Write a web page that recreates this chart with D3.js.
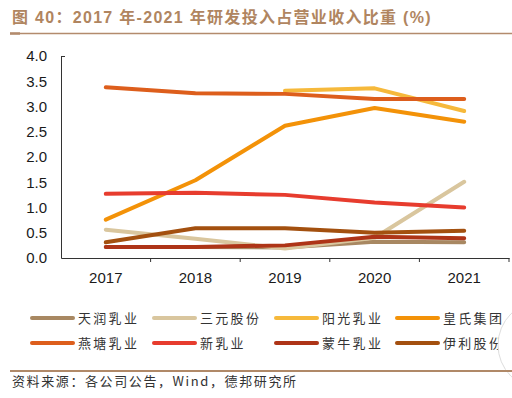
<!DOCTYPE html>
<html><head><meta charset="utf-8">
<script src="https://cdn.jsdelivr.net/npm/d3@7"></script>
<style>body{margin:0;background:#fff}svg{display:block}</style>
</head><body>
<svg id="c" width="512" height="398"></svg>
<script>
const years = ["2017","2018","2019","2020","2021"];
const yTicks = [0,0.5,1,1.5,2,2.5,3,3.5,4];
const seriesNames = ["天润乳业","三元股份","阳光乳业","皇氏集团","燕塘乳业","新乳业","蒙牛乳业","伊利股份"];
const seriesColors = ["#A88862","#D9C69E","#F6B93B","#F39208","#DD5E1C","#E73C2E","#AE3417","#A3500F"];
const tianrun = [0.22,0.22,0.21,0.32,0.31];
const sanyuan = [0.56,0.38,0.19,0.40,1.51];
const yangguang = [null,null,3.31,3.36,2.91];
const huangshi = [0.76,1.54,2.62,2.97,2.70];
const yantang = [3.38,3.26,3.25,3.15,3.15];
const xinru = [1.27,1.29,1.25,1.10,1.00];
const mengniu = [0.22,0.22,0.25,0.42,0.39];
const yili = [0.31,0.59,0.59,0.50,0.54];
const seriesValues = [tianrun,sanyuan,yangguang,huangshi,yantang,xinru,mengniu,yili];

const svg = d3.select("#c");
const x = d3.scaleBand().domain(years).range([61,509]);
const y = d3.scaleLinear().domain([0,4]).range([258,56]);

// title
svg.append("text").attr("x",12).attr("y",23)
  .attr("font-family","Liberation Sans, Arial, 'Noto Sans CJK SC', sans-serif")
  .attr("font-weight","bold").attr("font-size",16).attr("fill","#B08560")
  .attr("letter-spacing","1.3px")
  .text("图 40：2017 年-2021 年研发投入占营业收入比重 (%)");
svg.append("line").attr("x1",10).attr("x2",512).attr("y1",33.5).attr("y2",33.5)
  .attr("stroke","#B38B6D").attr("stroke-width",1.5);
svg.append("line").attr("x1",10).attr("x2",20).attr("y1",33.5).attr("y2",33.5)
  .attr("stroke","#B38B6D").attr("stroke-width",2.5);

// axes
const yAxis = d3.axisLeft(y).tickValues(yTicks).tickFormat(d3.format(".1f")).tickSize(0).tickPadding(14);
const gy = svg.append("g").attr("transform","translate(61,0)").call(yAxis);
gy.select(".domain").attr("stroke","#333");
gy.selectAll("text").attr("font-family","Liberation Sans, Arial, sans-serif").attr("font-size",15).attr("fill","#1a1a1a");
svg.append("line").attr("x1",61).attr("x2",65).attr("y1",56.5).attr("y2",56.5).attr("stroke","#333");

const xAxis = d3.axisBottom(x).tickSize(0).tickPadding(14);
const gx = svg.append("g").attr("transform","translate(0,258)").call(xAxis);
gx.select(".domain").attr("stroke","#333");
gx.selectAll("text").attr("font-family","Liberation Sans, Arial, sans-serif").attr("font-size",15).attr("fill","#1a1a1a");
// band boundary ticks
const bounds = years.map(d => x(d) + x.bandwidth());
svg.append("g").selectAll("line").data(bounds).join("line")
  .attr("x1",d=>d).attr("x2",d=>d).attr("y1",258).attr("y2",262).attr("stroke","#333");

// lines
const line = d3.line().defined(d=>d!=null)
  .x((d,i)=>x(years[i])+x.bandwidth()/2).y(d=>y(d));
svg.append("g").selectAll("path").data(seriesValues).join("path")
  .attr("d",d=>line(d)).attr("fill","none")
  .attr("stroke",(d,i)=>seriesColors[i]).attr("stroke-width",4)
  .attr("stroke-linecap","round").attr("stroke-linejoin","round");

// legend
const colX = [32,154,276,397];
const rowY = [318,343];
const lg = svg.append("g").selectAll("g").data(seriesNames).join("g")
  .attr("transform",(d,i)=>`translate(${colX[i%4]},${rowY[Math.floor(i/4)]})`);
lg.append("line").attr("x1",0).attr("x2",41).attr("y1",0).attr("y2",0)
  .attr("stroke",(d,i)=>seriesColors[i]).attr("stroke-width",4).attr("stroke-linecap","round");
lg.append("text").attr("x",46).attr("y",5).attr("font-size",13)
  .attr("font-family","'Noto Sans CJK SC', sans-serif").attr("letter-spacing","2.3px")
  .attr("fill","#333").text(d=>d);

// page artifact circle at right
svg.append("circle").attr("cx",542).attr("cy",345).attr("r",44)
  .attr("fill","#fff").attr("stroke","#ddd").attr("stroke-width",1);

// footer
svg.append("line").attr("x1",10).attr("x2",512).attr("y1",371).attr("y2",371)
  .attr("stroke","#B08968").attr("stroke-width",2);
svg.append("text").attr("x",12).attr("y",386).attr("font-size",13)
  .attr("font-family","'Noto Sans CJK SC', Liberation Sans, sans-serif").attr("letter-spacing","1.6px")
  .attr("fill","#333").text("资料来源：各公司公告，Wind，德邦研究所");
</script>
</body></html>
